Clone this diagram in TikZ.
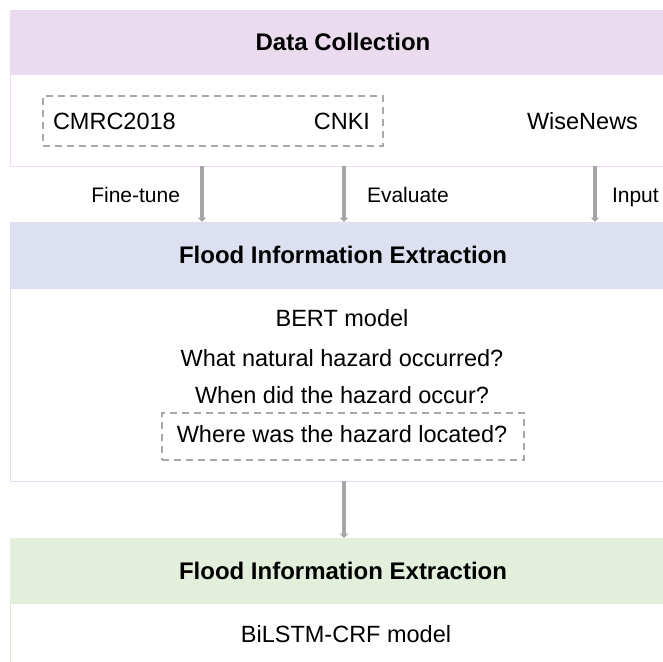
\documentclass[tikz,border=0pt]{standalone}
\usepackage{fontspec}
\setmainfont{Liberation Sans}
\usetikzlibrary{arrows.meta}
\definecolor{pinkH}{HTML}{EBDBEF}
\definecolor{pinkB}{HTML}{EFD9F3}
\definecolor{lavH}{HTML}{DCE0F1}
\definecolor{lavB}{HTML}{D9DEF2}
\definecolor{grnH}{HTML}{E3EFDA}
\definecolor{grnB}{HTML}{DDEBD2}
\definecolor{arrgray}{HTML}{A6A6A6}
\definecolor{dashgray}{HTML}{A8A8A8}
\begin{document}
\begin{tikzpicture}[x=1pt,y=-1pt,
  box/.style={rectangle, inner sep=0pt, outer sep=0pt, minimum width=700pt},
  hdrtxt/.style={inner sep=0pt, outer sep=0pt, font=\fontsize{24}{28}\selectfont\bfseries, text=black},
  bodybox/.style={box, fill=white, line width=0.9pt},
  txt/.style={inner sep=0pt, outer sep=0pt, font=\fontsize{23.5}{28}\selectfont},
  lbl/.style={inner sep=0pt, outer sep=0pt, font=\fontsize{21}{25}\selectfont},
  dashbox/.style={rectangle, inner sep=0pt, outer sep=0pt, draw=dashgray, line width=2.8pt, dash pattern=on 7pt off 5pt},
  arr/.style={draw=arrgray, line width=3.6pt, -{Triangle[width=8.5pt,length=4.5pt]}, color=arrgray}
]
\useasboundingbox (0,0) rectangle (663,661);
\clip (0,0) rectangle (663,661);
\fill[white] (0,0) rectangle (663,661);

% Section 1
\node[box, fill=pinkH, minimum height=64pt] (h1) at (360,42) {};
\node[hdrtxt, anchor=base] (t1) at (343,50.5) {Data Collection};
\node[bodybox, draw=pinkB, minimum height=92pt] (b1) at (360,120) {};
\node[dashbox, minimum width=340pt, minimum height=50pt] (d1) at (213,121) {};
\node[txt, anchor=base west] (cmrc) at (53,129) {CMRC2018};
\node[txt, anchor=base east] (cnki) at (370,129) {CNKI};
\node[txt, anchor=base west] (wise) at (527,129) {WiseNews};

% Arrows 1 -> 2
\coordinate (s1) at (202,166);
\coordinate (e1) at (202,222);
\coordinate (s2) at (344,166);
\coordinate (e2) at (344,222);
\coordinate (s3) at (595,166);
\coordinate (e3) at (595,222);
\draw[arr] (s1) -- (e1);
\draw[arr] (s2) -- (e2);
\draw[arr] (s3) -- (e3);
\node[lbl, anchor=base east] (ft) at (180,202) {Fine-tune};
\node[lbl, anchor=base west] (ev) at (367,202) {Evaluate};
\node[lbl, anchor=base west] (in) at (612,202) {Input};

% Section 2
\node[box, fill=lavH, minimum height=66pt] (h2) at (360,255) {};
\node[hdrtxt, anchor=base] (t2) at (343,263.5) {Flood Information Extraction};
\node[bodybox, draw=lavB, minimum height=193pt] (b2) at (360,384.5) {};
\node[txt, anchor=base] (bert) at (342,326) {BERT model};
\node[txt, anchor=base] (q1) at (342,366) {What natural hazard occurred?};
\node[txt, anchor=base] (q2) at (342,403) {When did the hazard occur?};
\node[dashbox, minimum width=362pt, minimum height=47pt] (d2) at (343,436.5) {};
\node[txt, anchor=base] (q3) at (342,442) {Where was the hazard located?};

% Section 3
\node[box, fill=grnH, minimum height=65pt] (h3) at (360,570.5) {};
\node[hdrtxt, anchor=base] (t3) at (343,579) {Flood Information Extraction};
\coordinate (s4) at (344,481);
\draw[arr] (s4) -- (s4 |- h3.north);
\node[bodybox, draw=grnB, minimum height=72pt] (b3) at (360,639) {};
\node[txt, anchor=base] (bilstm) at (346,642) {BiLSTM-CRF model};
\end{tikzpicture}
\end{document}
